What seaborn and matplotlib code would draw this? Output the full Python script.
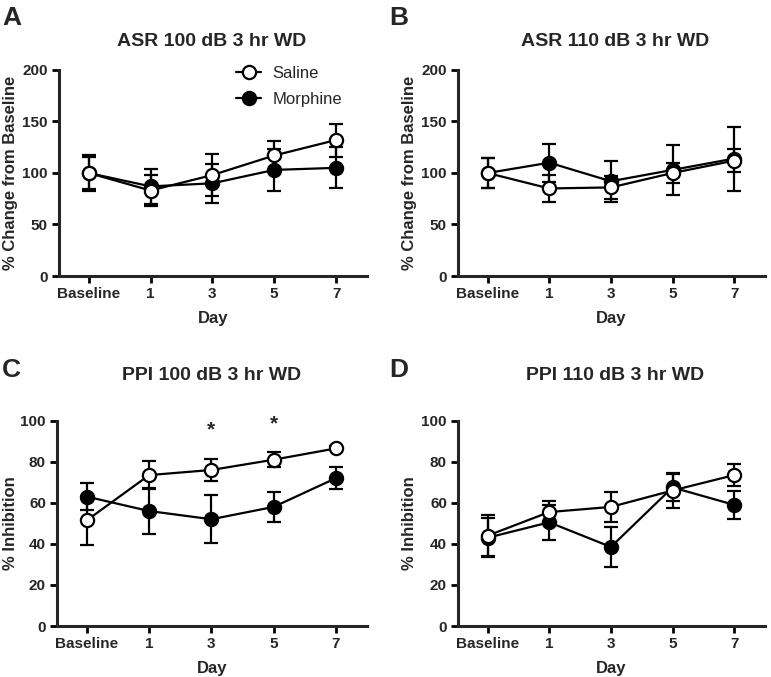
import numpy as np
import pandas as pd
import matplotlib
matplotlib.use("Agg")
import matplotlib.pyplot as plt
from matplotlib.lines import Line2D
import seaborn as sns

days = ["Baseline", "1", "3", "5", "7"]
groups = ["Saline", "Morphine"]

# ASR 100 dB
asr100_sal = [100, 83, 98, 117, 132]
asr100_sal_err = [17, 15, 20, 14.5, 16]
asr100_mor = [100, 87, 90, 103, 105]
asr100_mor_err = [16, 17, 19, 20, 20]

# ASR 110 dB
asr110_sal = [100, 85, 86, 100, 112]
asr110_sal_err = [15, 13.5, 11, 10, 11]
asr110_mor = [100, 110, 92, 103, 114]
asr110_mor_err = [15, 18.5, 20, 24, 31]

# PPI 100 dB
ppi100_sal = [51.5, 73.5, 76, 81, 86.5]
ppi100_sal_err = [12, 7, 5.5, 3.6, 1]
ppi100_mor = [63, 56, 52, 58, 72]
ppi100_mor_err = [6.5, 11, 11.7, 7.3, 5.3]

# PPI 110 dB
ppi110_sal = [44, 55.5, 58, 66, 73.5]
ppi110_sal_err = [10, 5.4, 7.5, 8.5, 5.2]
ppi110_mor = [43, 50.5, 38.5, 67.5, 59]
ppi110_mor_err = [9.5, 8.5, 9.8, 6.5, 7]


def make_df(sal, sal_err, mor, mor_err):
    rows = []
    for i, d in enumerate(days):
        rows.append(dict(pos=i, day=d, group="Saline", mean=sal[i], sem=sal_err[i]))
        rows.append(dict(pos=i, day=d, group="Morphine", mean=mor[i], sem=mor_err[i]))
    return pd.DataFrame(rows)


panels = [
    dict(letter="A", title="ASR 100 dB 3 hr WD", ylabel="% Change from Baseline",
         df=make_df(asr100_sal, asr100_sal_err, asr100_mor, asr100_mor_err),
         ylim=200, yticks=[0, 50, 100, 150, 200],
         rect=[59/771, 1-276/677, 308/771, 206/677], tpos=(212, 42), lpos=(2, 6), ylx=-0.134),
    dict(letter="B", title="ASR 110 dB 3 hr WD", ylabel="% Change from Baseline",
         df=make_df(asr110_sal, asr110_sal_err, asr110_mor, asr110_mor_err),
         ylim=200, yticks=[0, 50, 100, 150, 200],
         rect=[458/771, 1-276/677, 307/771, 206/677], tpos=(615, 42), lpos=(389, 6), ylx=-0.134),
    dict(letter="C", title="PPI 100 dB 3 hr WD", ylabel="% Inhibition",
         df=make_df(ppi100_sal, ppi100_sal_err, ppi100_mor, ppi100_mor_err),
         ylim=100, yticks=[0, 20, 40, 60, 80, 100],
         rect=[57/771, 1-626/677, 310/771, 205.3/677], tpos=(212, 375), lpos=(2, 358), ylx=-0.127),
    dict(letter="D", title="PPI 110 dB 3 hr WD", ylabel="% Inhibition",
         df=make_df(ppi110_sal, ppi110_sal_err, ppi110_mor, ppi110_mor_err),
         ylim=100, yticks=[0, 20, 40, 60, 80, 100],
         rect=[458/771, 1-626/677, 307/771, 205.3/677], tpos=(615, 375), lpos=(389, 358), ylx=-0.134),
]

sns.set_theme(style="ticks")
plt.rcParams["font.family"] = ["Liberation Sans", "DejaVu Sans"]
plt.rcParams["font.weight"] = "bold"

fig = plt.figure(figsize=(7.71, 6.77), dpi=100)

ms = 9.5
lw = 1.6

for p in panels:
    ax = fig.add_axes(p["rect"])
    df = p["df"]
    # error bars first, then lines/markers on top (saline drawn last)
    for g in ["Morphine", "Saline"]:
        sub = df[df.group == g]
        ax.errorbar(sub["pos"], sub["mean"], yerr=sub["sem"], fmt="none", ecolor="black",
                    elinewidth=lw, capsize=5, capthick=lw, zorder=2)
    mor = df[df.group == "Morphine"]
    sal = df[df.group == "Saline"]
    sns.lineplot(data=mor, x="pos", y="mean", errorbar=None, color="black", marker="o",
                 markersize=ms, markerfacecolor="black", markeredgecolor="black",
                 markeredgewidth=lw, linewidth=lw, zorder=3, ax=ax)
    sns.lineplot(data=sal, x="pos", y="mean", errorbar=None, color="black", marker="o",
                 markersize=ms, markerfacecolor="white", markeredgecolor="black",
                 markeredgewidth=lw, linewidth=lw, zorder=4, ax=ax)

    ax.set_xlim(-0.48, 4.5)
    ax.set_ylim(0, p["ylim"])
    ax.set_xticks(range(len(days)))
    ax.set_xticklabels(days)
    ax.set_yticks(p["yticks"])
    ax.tick_params(axis="both", width=2, length=5, labelsize=11, pad=3, color="black")
    for lab in ax.get_xticklabels() + ax.get_yticklabels():
        lab.set_fontweight("bold")
    sns.despine(ax=ax)
    ax.spines["left"].set_linewidth(2.2)
    ax.spines["bottom"].set_linewidth(2.2)
    ax.set_xlabel("Day", fontsize=12, fontweight="bold", labelpad=7)
    ax.set_ylabel(p["ylabel"], fontsize=12, fontweight="bold")
    ax.yaxis.set_label_coords(p["ylx"], 0.5)

    fig.text(p["tpos"][0]/771, 1-p["tpos"][1]/677, p["title"], ha="center", va="center",
             fontsize=14, fontweight="bold")
    fig.text(p["lpos"][0]/771, 1-p["lpos"][1]/677, p["letter"], ha="left", va="top",
             fontsize=19, fontweight="bold")

    if p["letter"] == "A":
        handles = [
            Line2D([], [], color="black", marker="o", markersize=ms, markerfacecolor="white",
                   markeredgewidth=lw, linewidth=lw),
            Line2D([], [], color="black", marker="o", markersize=ms, markerfacecolor="black",
                   markeredgewidth=lw, linewidth=lw),
        ]
        leg = ax.legend(handles, groups, loc="upper right", bbox_to_anchor=(0.92, 1.02),
                        frameon=False, borderpad=0, borderaxespad=0, handlelength=1.5,
                        handletextpad=0.7, labelspacing=0.65, prop=dict(size=12, weight="normal"))

    if p["letter"] == "C":
        ax.text(2, 95.5, "*", ha="center", va="center", fontsize=15, fontweight="bold")
        ax.text(3, 98.5, "*", ha="center", va="center", fontsize=15, fontweight="bold")

fig.savefig("out.png", dpi=100)
